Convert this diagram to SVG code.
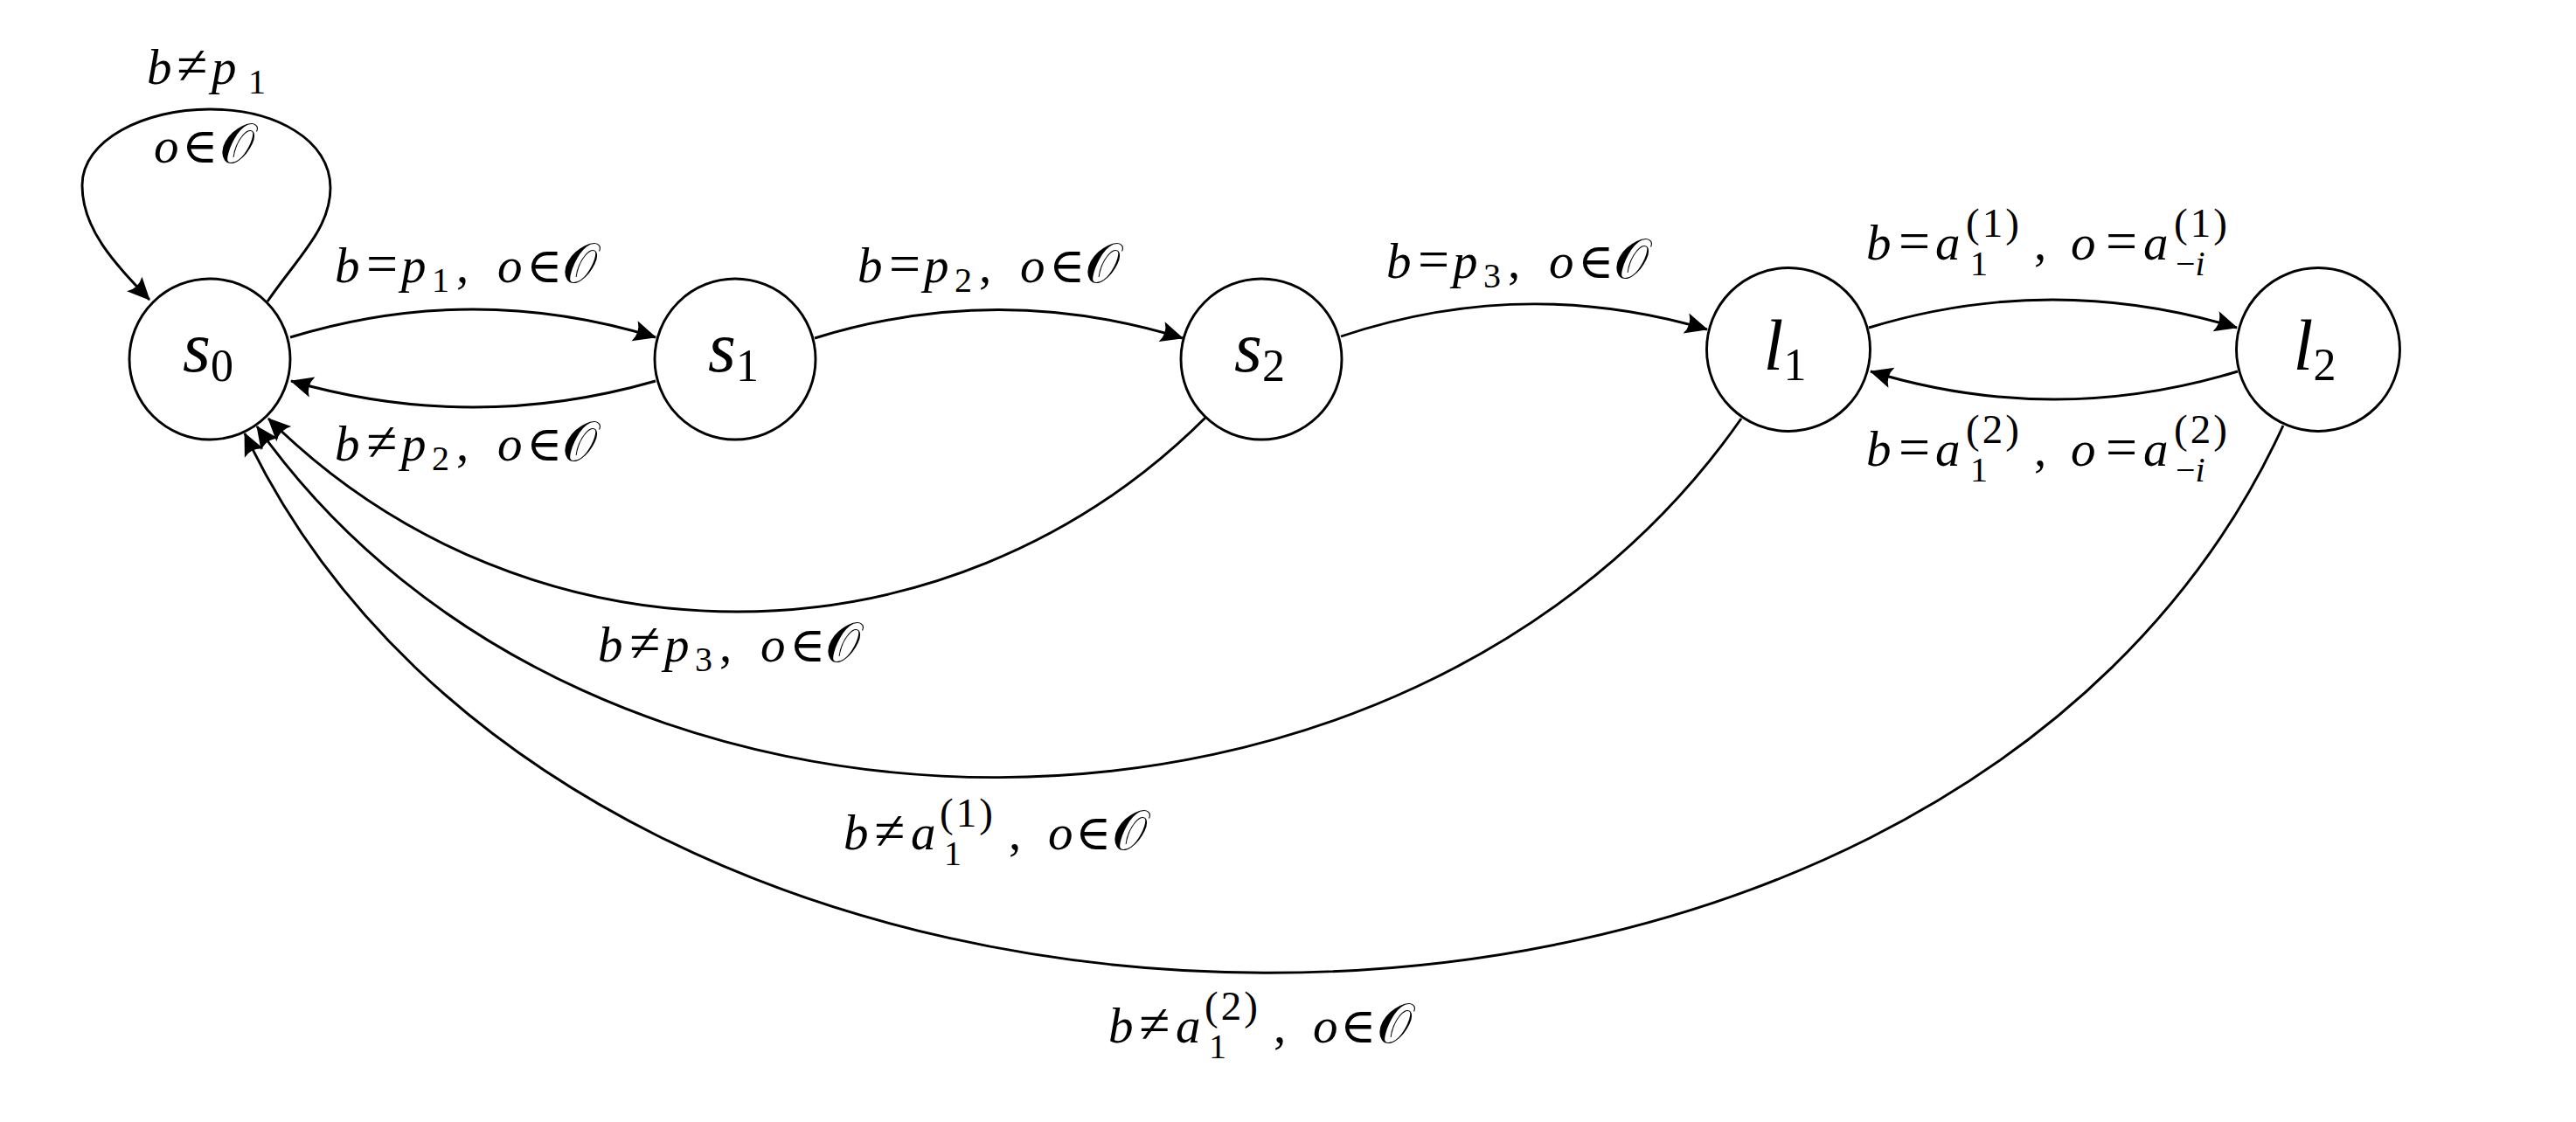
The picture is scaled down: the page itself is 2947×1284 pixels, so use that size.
<svg xmlns="http://www.w3.org/2000/svg" width="2947" height="1284" viewBox="0 0 2947 1284">
<style>
.node circle{fill:#fff;stroke:#000;stroke-width:2.9}
.nl{font-family:"Liberation Serif","DejaVu Serif",serif;font-size:82px;text-anchor:middle;fill:#000}
.ns{font-size:52px;font-style:normal}
.edges path{fill:none;stroke:#000;stroke-width:2.9}
.lbl{font-family:"Liberation Serif","DejaVu Serif",serif;font-size:57px;fill:#000}
.i{font-style:italic}
.r{font-size:64px}
.e{font-size:56px}
.c{font-size:64px}
.s{font-size:40px}
.p{font-size:47px;letter-spacing:3px}
</style>
<defs>
<marker id="arr" viewBox="-27 -14 29 28" refX="0" refY="0" markerWidth="29" markerHeight="28" markerUnits="userSpaceOnUse" orient="auto">
<path d="M1,0 L-25,-12 Q-18,0 -25,12 Z" fill="#000"/>
</marker>
</defs>
<rect width="2947" height="1284" fill="#fff"/>
<g class="edges" id="connectors">
<path marker-end="url(#arr)" d="M306,345 C340,295 378,262 378,215 C378,160 315,125 240,125 C165,125 94,160 94,212 C94,262 130,300 171,343"/>
<path marker-end="url(#arr)" d="M332,386 Q541,322 750,386"/>
<path marker-end="url(#arr)" d="M750,436 Q541,496 333,436"/>
<path marker-end="url(#arr)" d="M932,387 Q1142,322 1353,387"/>
<path marker-end="url(#arr)" d="M1534,385 Q1743,315 1953,377"/>
<path marker-end="url(#arr)" d="M2138,375 Q2348,311 2559,375"/>
<path marker-end="url(#arr)" d="M2560,425 Q2350,489 2140,425"/>
<path marker-end="url(#arr)" d="M1380,477 C1083,774 604,774 307,479"/>
<path marker-end="url(#arr)" d="M1992,479 C1612,1025 674,1025 294,488"/>
<path marker-end="url(#arr)" d="M2612,487 C2226,1331 666,1310 280,496"/>
</g>
<g id="labels">
<text class="lbl"><tspan class="i" x="168" y="96">b</tspan><tspan class="r" x="202" y="96">≠</tspan><tspan class="i" x="242" y="96">p</tspan><tspan class="s" x="284" y="107">1</tspan></text>
<text class="lbl"><tspan class="i" x="176" y="186">o</tspan><tspan class="e" x="208" y="186">∈</tspan><tspan class="c" x="251" y="186">𝒪</tspan></text>
<text class="lbl"><tspan class="i" x="383" y="323">b</tspan><tspan class="r" x="419" y="323">=</tspan><tspan class="i" x="459" y="323">p</tspan><tspan class="s" x="494" y="334">1</tspan><tspan x="522" y="323">,</tspan><tspan class="i" x="569" y="323">o</tspan><tspan class="e" x="602" y="323">∈</tspan><tspan class="c" x="643" y="323">𝒪</tspan></text>
<text class="lbl"><tspan class="i" x="383" y="527">b</tspan><tspan class="r" x="419" y="527">≠</tspan><tspan class="i" x="459" y="527">p</tspan><tspan class="s" x="494" y="538">2</tspan><tspan x="522" y="527">,</tspan><tspan class="i" x="569" y="527">o</tspan><tspan class="e" x="602" y="527">∈</tspan><tspan class="c" x="643" y="527">𝒪</tspan></text>
<text class="lbl"><tspan class="i" x="981" y="323">b</tspan><tspan class="r" x="1017" y="323">=</tspan><tspan class="i" x="1057" y="323">p</tspan><tspan class="s" x="1092" y="334">2</tspan><tspan x="1120" y="323">,</tspan><tspan class="i" x="1167" y="323">o</tspan><tspan class="e" x="1200" y="323">∈</tspan><tspan class="c" x="1241" y="323">𝒪</tspan></text>
<text class="lbl"><tspan class="i" x="1586" y="318">b</tspan><tspan class="r" x="1622" y="318">=</tspan><tspan class="i" x="1662" y="318">p</tspan><tspan class="s" x="1697" y="329">3</tspan><tspan x="1725" y="318">,</tspan><tspan class="i" x="1772" y="318">o</tspan><tspan class="e" x="1805" y="318">∈</tspan><tspan class="c" x="1846" y="318">𝒪</tspan></text>
<text class="lbl"><tspan class="i" x="684" y="757">b</tspan><tspan class="r" x="720" y="757">≠</tspan><tspan class="i" x="760" y="757">p</tspan><tspan class="s" x="795" y="768">3</tspan><tspan x="823" y="757">,</tspan><tspan class="i" x="870" y="757">o</tspan><tspan class="e" x="903" y="757">∈</tspan><tspan class="c" x="944" y="757">𝒪</tspan></text>
<text class="lbl"><tspan class="i" x="965" y="972">b</tspan><tspan class="r" x="1000" y="972">≠</tspan><tspan class="i" x="1042" y="972">a</tspan><tspan class="s" x="1080" y="990">1</tspan><tspan class="p" x="1075" y="946">(1)</tspan><tspan x="1154" y="972">,</tspan><tspan class="i" x="1199" y="972">o</tspan><tspan class="e" x="1230" y="972">∈</tspan><tspan class="c" x="1272" y="972">𝒪</tspan></text>
<text class="lbl"><tspan class="i" x="1268" y="1193">b</tspan><tspan class="r" x="1303" y="1193">≠</tspan><tspan class="i" x="1345" y="1193">a</tspan><tspan class="s" x="1383" y="1211">1</tspan><tspan class="p" x="1378" y="1167">(2)</tspan><tspan x="1457" y="1193">,</tspan><tspan class="i" x="1502" y="1193">o</tspan><tspan class="e" x="1533" y="1193">∈</tspan><tspan class="c" x="1575" y="1193">𝒪</tspan></text>
<text class="lbl"><tspan class="i" x="2135" y="297">b</tspan><tspan class="r" x="2172" y="297">=</tspan><tspan class="i" x="2214" y="297">a</tspan><tspan class="s" x="2254" y="315">1</tspan><tspan class="p" x="2249" y="271">(1)</tspan><tspan x="2327" y="297">,</tspan><tspan class="i" x="2369" y="297">o</tspan><tspan class="r" x="2409" y="297">=</tspan><tspan class="i" x="2452" y="297">a</tspan><tspan class="s" x="2489" y="315">−<tspan class="i">i</tspan></tspan><tspan class="p" x="2487" y="271">(1)</tspan></text>
<text class="lbl"><tspan class="i" x="2135" y="533">b</tspan><tspan class="r" x="2172" y="533">=</tspan><tspan class="i" x="2214" y="533">a</tspan><tspan class="s" x="2254" y="551">1</tspan><tspan class="p" x="2249" y="507">(2)</tspan><tspan x="2327" y="533">,</tspan><tspan class="i" x="2369" y="533">o</tspan><tspan class="r" x="2409" y="533">=</tspan><tspan class="i" x="2452" y="533">a</tspan><tspan class="s" x="2489" y="551">−<tspan class="i">i</tspan></tspan><tspan class="p" x="2487" y="507">(2)</tspan></text>
</g>
<g class="node" id="s0"><circle cx="240" cy="411" r="92"/><text class="nl" x="238" y="425"><tspan class="i">s</tspan><tspan class="ns" dy="11">0</tspan></text></g>
<g class="node" id="s1"><circle cx="841" cy="411" r="92"/><text class="nl" x="839" y="425"><tspan class="i">s</tspan><tspan class="ns" dy="11">1</tspan></text></g>
<g class="node" id="s2"><circle cx="1443" cy="411" r="92"/><text class="nl" x="1441" y="425"><tspan class="i">s</tspan><tspan class="ns" dy="11">2</tspan></text></g>
<g class="node" id="l1"><circle cx="2046" cy="400" r="93.5"/><text class="nl" x="2042" y="423"><tspan class="i">l</tspan><tspan class="ns" dy="12">1</tspan></text></g>
<g class="node" id="l2"><circle cx="2652" cy="400" r="93.5"/><text class="nl" x="2648" y="423"><tspan class="i">l</tspan><tspan class="ns" dy="12">2</tspan></text></g>
</svg>
